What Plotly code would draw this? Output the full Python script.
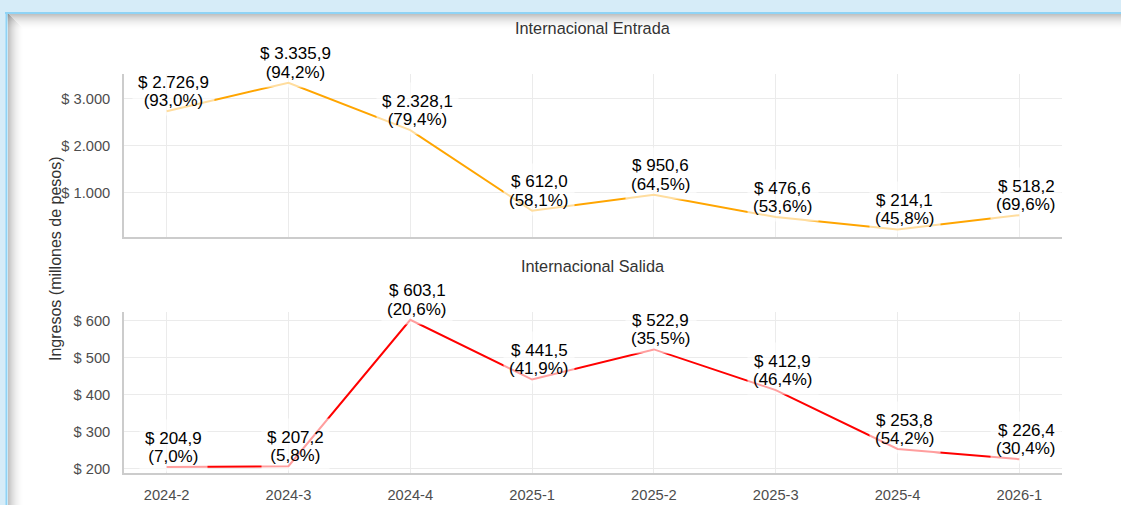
import plotly.graph_objects as go
from plotly.subplots import make_subplots

periodos = ['2024-2', '2024-3', '2024-4', '2025-1', '2025-2', '2025-3', '2025-4', '2026-1']
entrada = [2726.9, 3335.9, 2328.1, 612.0, 950.6, 476.6, 214.1, 518.2]
entrada_pct = [93.0, 94.2, 79.4, 58.1, 64.5, 53.6, 45.8, 69.6]
salida = [204.9, 207.2, 603.1, 441.5, 522.9, 412.9, 253.8, 226.4]
salida_pct = [7.0, 5.8, 20.6, 41.9, 35.5, 46.4, 54.2, 30.4]
ticks_entrada = [1000, 2000, 3000]
ticks_salida = [200, 300, 400, 500, 600]

W, H = 1121, 505
ML, MR, MT, MB = 124, 59, 74, 32
PW, PH = W - ML - MR, H - MT - MB
FONT = "Liberation Sans, Arial, sans-serif"


def px_x(p):
    return (p - ML) / PW


def px_y(p):
    return (H - MB - p) / PH


def fmt(v, dec=1):
    s = f"{v:,.{dec}f}"
    return s.replace(",", "X").replace(".", ",").replace("X", ".")


fig = make_subplots(rows=2, cols=1, shared_xaxes=True)

fig.add_trace(go.Scatter(x=periodos, y=entrada, mode='lines',
                         line=dict(color='#FFA500', width=2), hoverinfo='skip'),
              row=1, col=1)
fig.add_trace(go.Scatter(x=periodos, y=salida, mode='lines',
                         line=dict(color='#FF0000', width=2), hoverinfo='skip'),
              row=2, col=1)

# etiquetas: caja semitransparente con el porcentaje + linea del valor encima
annots = []
for yref, vals, pcts in [('y', entrada, entrada_pct), ('y2', salida, salida_pct)]:
    for p, v, pc in zip(periodos, vals, pcts):
        val_txt = "$ " + fmt(v)
        pct_txt = "(" + fmt(pc) + "%)"
        annots.append(dict(
            x=p, y=v, xref='x2', yref=yref,
            text='<span style="color:rgba(0,0,0,0)">' + val_txt + '</span><br>' + pct_txt,
            showarrow=False, xanchor='center', yanchor='bottom',
            xshift=7, yshift=-4.8, borderpad=5,
            bgcolor='rgba(255,255,255,0.62)',
            font=dict(family=FONT, size=17, color='#000000')))
        annots.append(dict(
            x=p, y=v, xref='x2', yref=yref, text=val_txt,
            showarrow=False, xanchor='center', yanchor='bottom',
            xshift=7, yshift=13.5, borderpad=5,
            font=dict(family=FONT, size=17, color='#000000')))

annots.append(dict(x=0.5, y=px_y(28), xref='paper', yref='paper',
                   text='Internacional Entrada', showarrow=False,
                   xanchor='center', yanchor='middle',
                   font=dict(family=FONT, size=16.3, color='#333333')))
annots.append(dict(x=0.5, y=px_y(266), xref='paper', yref='paper',
                   text='Internacional Salida', showarrow=False,
                   xanchor='center', yanchor='middle',
                   font=dict(family=FONT, size=16.3, color='#333333')))
annots.append(dict(x=px_x(55), y=px_y(259), xref='paper', yref='paper',
                   text='Ingresos (millones de pesos)', showarrow=False,
                   textangle=-90, xanchor='center', yanchor='middle',
                   font=dict(family=FONT, size=16, color='#333333')))

# marco azul de la pagina con sombra interior
shapes = [
    dict(type='rect', xref='paper', yref='paper', layer='below',
         x0=px_x(6), x1=px_x(W + 5), y0=px_y(H + 5), y1=px_y(12),
         fillcolor='white', line=dict(width=0)),
]
for i in range(16):
    a = 0.24 * (1 - i / 16) ** 2
    shapes.append(dict(type='line', xref='paper', yref='paper', layer='below',
                       x0=px_x(7), x1=px_x(W + 5), y0=px_y(14.5 + i), y1=px_y(14.5 + i),
                       line=dict(color=f'rgba(0,0,0,{a:.3f})', width=1)))
    shapes.append(dict(type='line', xref='paper', yref='paper', layer='below',
                       x0=px_x(8.5 + i), x1=px_x(8.5 + i), y0=px_y(14 + i), y1=px_y(H + 5),
                       line=dict(color=f'rgba(0,0,0,{a:.3f})', width=1)))
shapes.append(dict(type='line', xref='paper', yref='paper', layer='below',
                   x0=px_x(5), x1=px_x(W + 5), y0=px_y(13), y1=px_y(13),
                   line=dict(color='#8fd3f5', width=2)))
shapes.append(dict(type='line', xref='paper', yref='paper', layer='below',
                   x0=px_x(6.5), x1=px_x(6.5), y0=px_y(12), y1=px_y(H + 5),
                   line=dict(color='#8fd3f5', width=2)))

fig.update_layout(
    width=W, height=H,
    margin=dict(l=ML, r=MR, t=MT, b=MB),
    paper_bgcolor='#d6ecf8',
    plot_bgcolor='rgba(0,0,0,0)',
    showlegend=False,
    font=dict(family=FONT),
    annotations=annots,
    shapes=shapes,
)

axis_style = dict(showgrid=True, gridcolor='#ebebeb', gridwidth=1,
                  showline=True, linecolor='#cccccc', linewidth=1.5,
                  zeroline=False, ticks='', automargin=False,
                  tickfont=dict(family=FONT, size=14.7, color='#4d4d4d'))

fig.update_xaxes(**axis_style, type='category', range=[-0.35, 7.35])
fig.update_xaxes(showticklabels=False, row=1, col=1)
fig.update_xaxes(ticklabelstandoff=8, row=2, col=1)

fig.update_yaxes(**axis_style, ticklabelstandoff=9)
fig.update_yaxes(domain=[px_y(237), 1.0], range=[53, 3521],
                 tickvals=ticks_entrada,
                 ticktext=["$ " + fmt(t, 0) for t in ticks_entrada], row=1, col=1)
fig.update_yaxes(domain=[0.0, px_y(312)], range=[189, 624],
                 tickvals=ticks_salida,
                 ticktext=["$ " + fmt(t, 0) for t in ticks_salida], row=2, col=1)

fig.write_html("out.html", config={'displayModeBar': False},
               post_script="document.body.style.margin='0px';")
